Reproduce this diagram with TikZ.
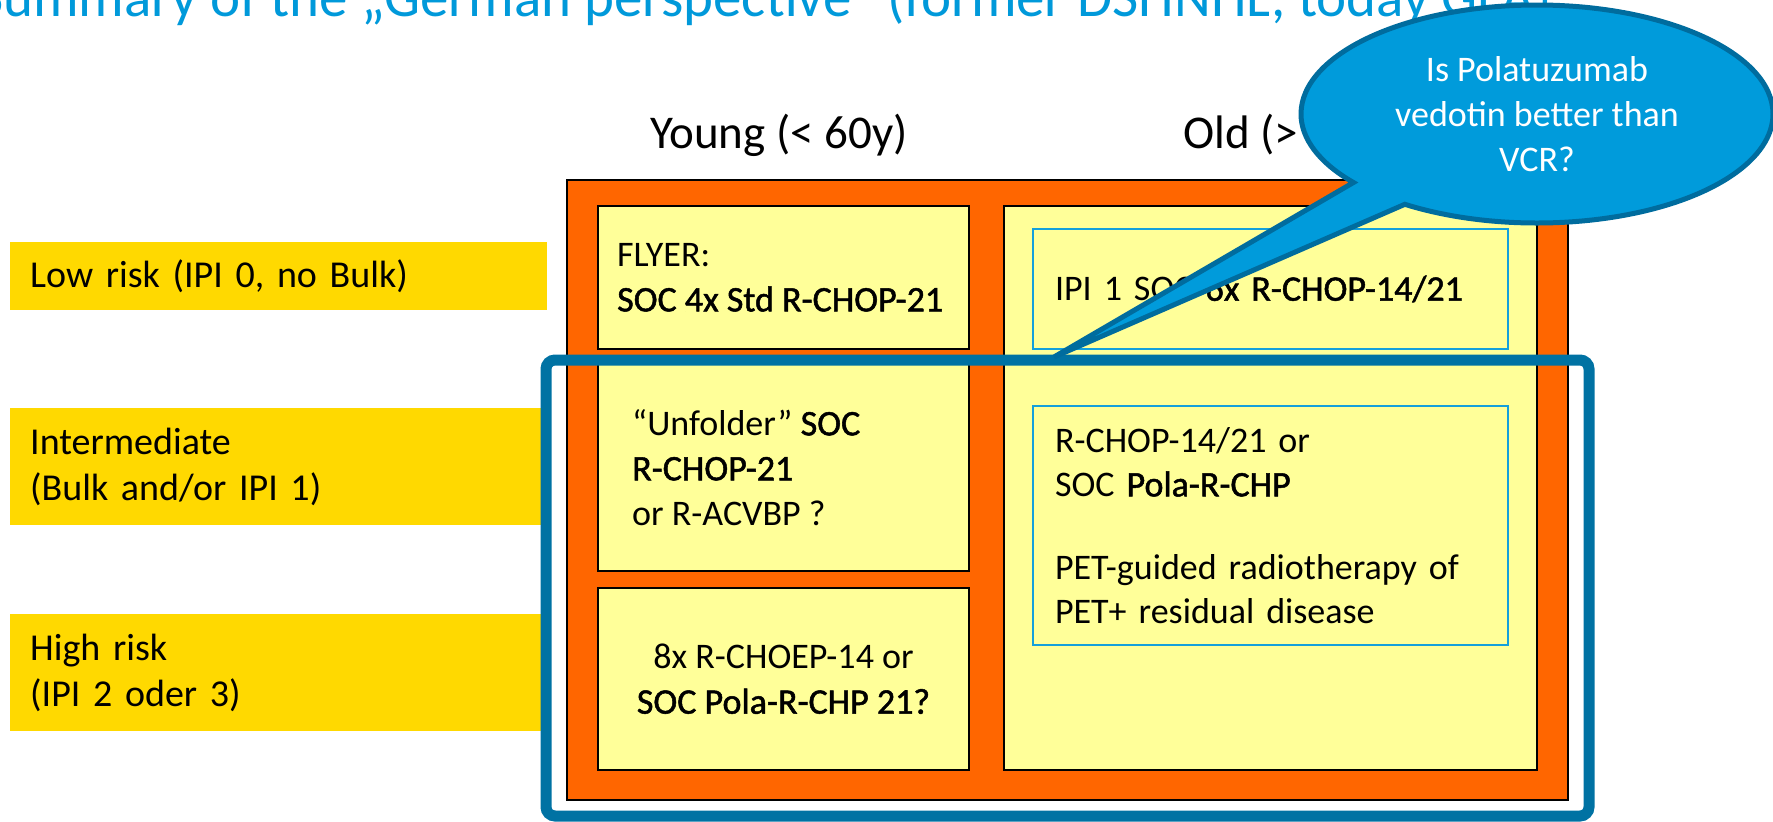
\documentclass[tikz,border=0pt]{standalone}
\usepackage{fontspec}
\setmainfont{Carlito}
\newfontfamily\heavy{Carlito}[FakeBold=1.4]
\usetikzlibrary{shapes.callouts}
\definecolor{titleblue}{RGB}{0,153,218}
\definecolor{bubble}{RGB}{0,155,219}
\definecolor{bubbleline}{RGB}{0,108,158}
\definecolor{framecol}{RGB}{0,114,163}
\definecolor{panelorange}{RGB}{255,102,0}
\definecolor{cellyellow}{RGB}{255,255,153}
\definecolor{riskyellow}{RGB}{255,217,0}
\definecolor{subblue}{RGB}{20,160,220}

\tikzset{
  risk/.style={fill=riskyellow, anchor=north west, inner xsep=20pt, inner ysep=0pt,
    text width=497pt, align=left, font=\fontsize{38}{46}\selectfont},
  cell/.style={draw=black, line width=2pt, fill=cellyellow, anchor=north west, inner sep=0},
  celltext/.style={inner sep=0, font=\fontsize{36}{45}\selectfont},
  sub/.style={draw=subblue, line width=2pt, anchor=north west, inner xsep=22pt,
    text width=431pt, align=left, font=\fontsize{36}{44}\selectfont},
}

\begin{document}
\begin{tikzpicture}[x=1pt,y=-1pt]
\useasboundingbox (0,0) rectangle (1773,822);
\clip (0,0) rectangle (1773,822);

\node[anchor=base west, inner sep=0, text=titleblue, font=\fontsize{57}{68}\selectfont] (title)
  at (-23,16) {Summary of the „German perspective“ (former DSHNHL, today GLA)};

\node[anchor=base, font=\fontsize{47}{56}\selectfont] (young) at (779,148) {Young (< 60y)};
\node[anchor=base west, font=\fontsize{47}{56}\selectfont] (old) at (1180,148) {Old (> 60y)};

\node[risk, minimum height=68pt] (low) at (10,242) {Low risk (IPI 0, no Bulk)};
\node[risk, minimum height=117pt] (inter) at (10,408) {Intermediate\\(Bulk and/or IPI 1)};
\node[risk, minimum height=117pt] (high) at (10,614) {High risk\\(IPI 2 oder 3)};

\node[draw=black, line width=2pt, fill=panelorange, anchor=north west, inner sep=0,
  minimum width=1001pt, minimum height=620pt] (panel) at (566,179) {};

\node[cell, minimum width=371pt, minimum height=143pt] (flyer) at (597,205) {};
\node[cell, minimum width=371pt, minimum height=207pt] (unfolder) at (597,363) {};
\node[cell, minimum width=371pt, minimum height=182pt] (choep) at (597,587) {};
\node[cell, minimum width=533pt, minimum height=564pt] (elderly) at (1003,205) {};

\node[celltext, anchor=west, align=left] (flyertext) at ([xshift=20pt]flyer.west)
  {FLYER:\\{\heavy SOC 4x Std R-CHOP-21}};
\node[celltext, anchor=west, align=left] (unfoldertext) at ([xshift=35pt]unfolder.west)
  {“Unfolder” {\heavy SOC}\\{\heavy R-CHOP-21}\\or R-ACVBP ?};
\node[celltext, align=center] (choeptext) at (choep.center)
  {8x R-CHOEP-14 or\\{\heavy SOC Pola-R-CHP 21?}};

\node[sub, minimum height=120pt] (ipi) at (1032,228) {IPI 1 SOC {\heavy 6x R-CHOP-14/21}};
\node[sub, minimum height=239pt] (pola) at (1032,405)
  {R-CHOP-14/21 or\\SOC {\heavy Pola-R-CHP}\\[39pt]PET-guided radiotherapy of\\PET+ residual disease};

\draw[framecol, line width=11pt, rounded corners=9pt] (546,360) rectangle (1589,816);

\coordinate (tip) at (1054,357);
\node[ellipse callout, callout absolute pointer={(tip)}, callout pointer arc=17,
  fill=bubble, draw=bubbleline, line width=5pt, minimum width=472pt, minimum height=218pt,
  text=white, align=center, font=\fontsize{36}{45}\selectfont] (question)
  at (1537,114) {Is Polatuzumab\\vedotin better than\\VCR?};
\end{tikzpicture}
\end{document}
